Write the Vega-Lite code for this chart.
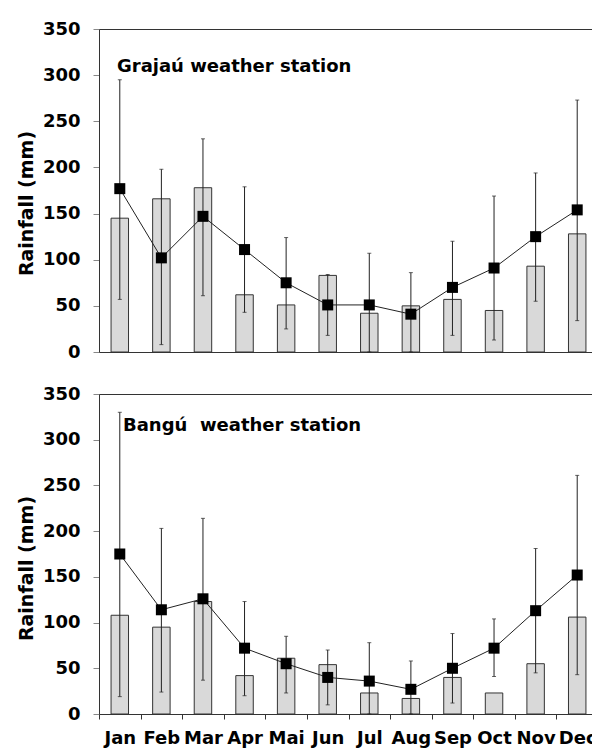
{
  "$schema": "https://vega.github.io/schema/vega-lite/v6.json",
  "padding": {"left": 16, "top": 19, "right": 0, "bottom": 0},
  "bounds": "flush",
  "spacing": 42,
  "background": "white",
  "config": {
    "font": "DejaVu Sans",
    "view": {"stroke": "#333333", "strokeWidth": 1},
    "axis": {
      "labelFont": "DejaVu Sans", "labelFontWeight": "bold", "labelFontSize": 18, "labelColor": "#000000",
      "titleFont": "DejaVu Sans", "titleFontWeight": "bold", "titleFontSize": 19, "titleColor": "#000000",
      "grid": false, "domainColor": "#333333", "tickColor": "#888888"
    },
    "title": {"font": "DejaVu Sans", "fontWeight": "bold", "fontSize": 18, "color": "#000000"}
  },
  "datasets": {
    "rain": [
      {"station": "Grajaú", "month": "Jan", "bar": 145, "mean": 177, "lo": 57, "hi": 295},
      {"station": "Grajaú", "month": "Feb", "bar": 166, "mean": 102, "lo": 8, "hi": 198},
      {"station": "Grajaú", "month": "Mar", "bar": 178, "mean": 147, "lo": 61, "hi": 231},
      {"station": "Grajaú", "month": "Apr", "bar": 62, "mean": 111, "lo": 43, "hi": 179},
      {"station": "Grajaú", "month": "Mai", "bar": 51, "mean": 75, "lo": 25, "hi": 124},
      {"station": "Grajaú", "month": "Jun", "bar": 83, "mean": 51, "lo": 18, "hi": 84},
      {"station": "Grajaú", "month": "Jul", "bar": 42, "mean": 51, "lo": 0, "hi": 107},
      {"station": "Grajaú", "month": "Aug", "bar": 50, "mean": 41, "lo": 0, "hi": 86},
      {"station": "Grajaú", "month": "Sep", "bar": 57, "mean": 70, "lo": 18, "hi": 120},
      {"station": "Grajaú", "month": "Oct", "bar": 45, "mean": 91, "lo": 13, "hi": 169},
      {"station": "Grajaú", "month": "Nov", "bar": 93, "mean": 125, "lo": 55, "hi": 194},
      {"station": "Grajaú", "month": "Dec", "bar": 128, "mean": 154, "lo": 34, "hi": 273},
      {"station": "Bangú", "month": "Jan", "bar": 108, "mean": 175, "lo": 19, "hi": 330},
      {"station": "Bangú", "month": "Feb", "bar": 95, "mean": 114, "lo": 24, "hi": 203},
      {"station": "Bangú", "month": "Mar", "bar": 123, "mean": 126, "lo": 37, "hi": 214},
      {"station": "Bangú", "month": "Apr", "bar": 42, "mean": 72, "lo": 20, "hi": 123},
      {"station": "Bangú", "month": "Mai", "bar": 61, "mean": 55, "lo": 23, "hi": 85},
      {"station": "Bangú", "month": "Jun", "bar": 54, "mean": 40, "lo": 10, "hi": 70},
      {"station": "Bangú", "month": "Jul", "bar": 23, "mean": 36, "lo": 0, "hi": 78},
      {"station": "Bangú", "month": "Aug", "bar": 17, "mean": 27, "lo": 0, "hi": 58},
      {"station": "Bangú", "month": "Sep", "bar": 40, "mean": 50, "lo": 12, "hi": 88},
      {"station": "Bangú", "month": "Oct", "bar": 23, "mean": 72, "lo": 41, "hi": 104},
      {"station": "Bangú", "month": "Nov", "bar": 55, "mean": 113, "lo": 45, "hi": 181},
      {"station": "Bangú", "month": "Dec", "bar": 106, "mean": 152, "lo": 43, "hi": 261}
    ]
  },
  "vconcat": [
    {
      "width": 499, "height": 323,
      "data": {"name": "rain"},
      "transform": [{"filter": "datum.station == 'Grajaú'"}],
      "title": {"text": "Grajaú weather station", "anchor": "start", "frame": "group", "dx": 18, "offset": -70, "baseline": "alphabetic"},
      "encoding": {
        "x": {"field": "month", "type": "nominal", "sort": ["Jan","Feb","Mar","Apr","Mai","Jun","Jul","Aug","Sep","Oct","Nov","Dec"],
              "scale": {"paddingInner": 0, "paddingOuter": 0}, "axis": null}
      },
      "layer": [
        {"mark": {"type": "bar", "width": {"band": 0.42}, "fill": "#d9d9d9", "stroke": "#333333", "strokeWidth": 1},
         "encoding": {"y": {"field": "bar", "type": "quantitative", "scale": {"domain": [0, 350], "nice": false},
           "axis": {"values": [0,50,100,150,200,250,300,350], "title": "Rainfall (mm)", "tickSize": 6, "labelPadding": 13, "titlePadding": 6, "titleY": 174}}}},
        {"mark": {"type": "rule", "color": "#222222", "strokeWidth": 1},
         "encoding": {"y": {"field": "lo", "type": "quantitative"}, "y2": {"field": "hi"}}},
        {"mark": {"type": "tick", "color": "#222222", "thickness": 1, "size": 4},
         "encoding": {"y": {"field": "hi", "type": "quantitative"}}},
        {"mark": {"type": "tick", "color": "#222222", "thickness": 1, "size": 4},
         "encoding": {"y": {"field": "lo", "type": "quantitative"}}},
        {"mark": {"type": "line", "color": "#222222", "strokeWidth": 1},
         "encoding": {"y": {"field": "mean", "type": "quantitative"}}},
        {"mark": {"type": "point", "shape": "square", "filled": true, "color": "#000000", "size": 121, "opacity": 1},
         "encoding": {"y": {"field": "mean", "type": "quantitative"}}}
      ]
    },
    {
      "width": 499, "height": 320,
      "data": {"name": "rain"},
      "transform": [{"filter": "datum.station == 'Bangú'"}],
      "title": {"text": "Bangú\u00a0 weather station", "anchor": "start", "frame": "group", "dx": 24, "offset": -64, "baseline": "alphabetic"},
      "encoding": {
        "x": {"field": "month", "type": "nominal", "sort": ["Jan","Feb","Mar","Apr","Mai","Jun","Jul","Aug","Sep","Oct","Nov","Dec"],
              "scale": {"paddingInner": 0, "paddingOuter": 0},
              "axis": {"title": null, "labelAngle": 0, "tickBand": "extent", "tickSize": 5, "tickColor": "#333333", "labelPadding": 10, "labelOverlap": false, "domainColor": "#333333"}}
      },
      "layer": [
        {"mark": {"type": "bar", "width": {"band": 0.42}, "fill": "#d9d9d9", "stroke": "#333333", "strokeWidth": 1},
         "encoding": {"y": {"field": "bar", "type": "quantitative", "scale": {"domain": [0, 350], "nice": false},
           "axis": {"values": [0,50,100,150,200,250,300,350], "title": "Rainfall (mm)", "tickSize": 6, "labelPadding": 13, "titlePadding": 6, "titleY": 174}}}},
        {"mark": {"type": "rule", "color": "#222222", "strokeWidth": 1},
         "encoding": {"y": {"field": "lo", "type": "quantitative"}, "y2": {"field": "hi"}}},
        {"mark": {"type": "tick", "color": "#222222", "thickness": 1, "size": 4},
         "encoding": {"y": {"field": "hi", "type": "quantitative"}}},
        {"mark": {"type": "tick", "color": "#222222", "thickness": 1, "size": 4},
         "encoding": {"y": {"field": "lo", "type": "quantitative"}}},
        {"mark": {"type": "line", "color": "#222222", "strokeWidth": 1},
         "encoding": {"y": {"field": "mean", "type": "quantitative"}}},
        {"mark": {"type": "point", "shape": "square", "filled": true, "color": "#000000", "size": 121, "opacity": 1},
         "encoding": {"y": {"field": "mean", "type": "quantitative"}}}
      ]
    }
  ]
}
